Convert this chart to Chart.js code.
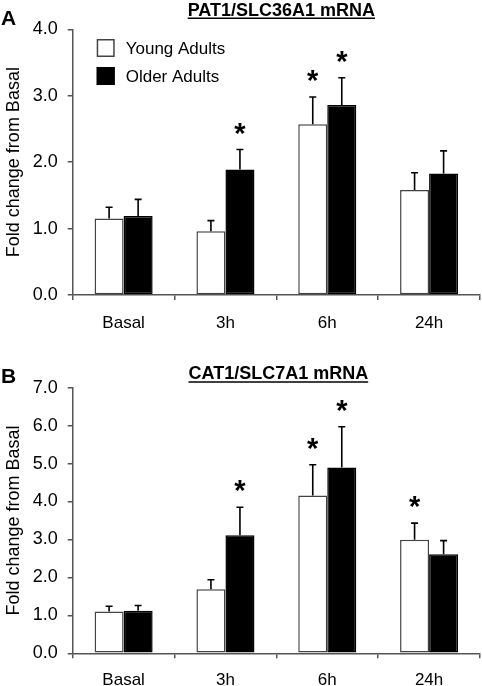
<!DOCTYPE html>
<html><head><meta charset="utf-8">
<script src="https://cdn.jsdelivr.net/npm/chart.js@4"></script>
<style>
html,body{margin:0;padding:0;background:#fff;}
#wrap{position:relative;width:482px;height:686px;overflow:hidden;}
canvas{position:absolute;left:0;}
</style></head><body>
<div id="wrap">
<canvas id="cA" width="482" height="343" style="top:0px"></canvas>
<canvas id="cB" width="482" height="343" style="top:343px"></canvas>
</div>
<script>
// ---------- data ----------
const categories = ['Basal', '3h', '6h', '24h'];
const seriesNames = ['Young Adults', 'Older Adults'];
const yAxisTitle = 'Fold change from Basal';

// Panel A
const titleA = 'PAT1/SLC36A1 mRNA';
const youngA = [1.15, 0.96, 2.57, 1.58];
const youngErrA = [0.17, 0.16, 0.41, 0.26];
const olderA = [1.19, 1.89, 2.86, 1.83];
const olderErrA = [0.25, 0.30, 0.41, 0.34];
const youngSigA = [false, false, true, false];
const olderSigA = [false, true, true, false];
const yMaxA = 4;

// Panel B
const titleB = 'CAT1/SLC7A1 mRNA';
const youngB = [1.10, 1.69, 4.16, 2.99];
const youngErrB = [0.14, 0.25, 0.81, 0.44];
const olderB = [1.12, 3.11, 4.90, 2.61];
const olderErrB = [0.14, 0.74, 1.07, 0.36];
const youngSigB = [false, false, true, true];
const olderSigB = [false, true, true, false];
const yMaxB = 7;

// ---------- styling ----------
const FONT = '"Liberation Sans", Arial, Helvetica, sans-serif';
const AXIS = '#555555';

const errPlugin = {
  id: 'errbars',
  afterDatasetsDraw(chart) {
    const ctx = chart.ctx, y = chart.scales.y;
    chart.data.datasets.forEach((ds, di) => {
      const meta = chart.getDatasetMeta(di);
      meta.data.forEach((bar, i) => {
        const top = y.getPixelForValue(ds.data[i] + ds.err[i]);
        ctx.save();
        ctx.strokeStyle = '#000';
        ctx.lineWidth = 1.6;
        ctx.beginPath();
        ctx.moveTo(bar.x, bar.y);
        ctx.lineTo(bar.x, top);
        ctx.moveTo(bar.x - 3.5, top);
        ctx.lineTo(bar.x + 3.5, top);
        ctx.stroke();
        if (ds.sig[i]) {
          ctx.fillStyle = '#000';
          ctx.font = 'bold 29px ' + FONT;
          ctx.textAlign = 'center';
          ctx.textBaseline = 'alphabetic';
          ctx.fillText('*', bar.x, top - 7);
        }
        ctx.restore();
      });
    });
  }
};

const panelPlugin = {
  id: 'panel',
  afterDraw(chart, args, opts) {
    const ctx = chart.ctx, ca = chart.chartArea;
    ctx.save();
    // panel letter
    ctx.fillStyle = '#000';
    ctx.font = 'bold 21px ' + FONT;
    ctx.textAlign = 'left';
    ctx.textBaseline = 'alphabetic';
    ctx.fillText(opts.letter, 1, opts.letterY);
    // underlined title
    ctx.font = 'bold 18px ' + FONT;
    ctx.textAlign = 'center';
    const cx = (ca.left + ca.right) / 2 + opts.titleDx;
    ctx.fillText(opts.title, cx, opts.titleY);
    const w = ctx.measureText(opts.title).width;
    ctx.strokeStyle = '#000';
    ctx.lineWidth = 1.5;
    ctx.beginPath();
    ctx.moveTo(cx - w / 2, opts.titleY + 2.8);
    ctx.lineTo(cx + w / 2, opts.titleY + 2.8);
    ctx.stroke();
    // legend
    if (opts.legend) {
      ctx.font = '17px ' + FONT;
      ctx.textAlign = 'left';
      ctx.textBaseline = 'middle';
      chart.data.datasets.forEach((ds, i) => {
        const bx = ca.left + 24, by = ca.top + 9.7 + i * 28;
        ctx.fillStyle = ds.backgroundColor;
        ctx.fillRect(bx, by, 18, 18);
        ctx.strokeStyle = ds.borderColor;
        ctx.lineWidth = 1.5;
        ctx.strokeRect(bx + 0.75, by + 0.75, 16.5, 16.5);
        ctx.fillStyle = '#000';
        ctx.fillText(ds.label, bx + 29, by + 10);
      });
    }
    ctx.restore();
  }
};

function makeChart(id, young, youngErr, youngSig, older, olderErr, olderSig, yMax, title, letter, cfg) {
  return new Chart(document.getElementById(id), {
    type: 'bar',
    data: {
      labels: categories,
      datasets: [
        { label: seriesNames[0], data: young, err: youngErr, sig: youngSig,
          backgroundColor: '#ffffff', borderColor: '#444444', borderWidth: 1.5, borderSkipped: false },
        { label: seriesNames[1], data: older, err: olderErr, sig: olderSig,
          backgroundColor: '#000000', borderColor: '#000000', borderWidth: 1.5, borderSkipped: false }
      ]
    },
    options: {
      responsive: false,
      animation: false,
      devicePixelRatio: 1,
      categoryPercentage: 0.57,
      barPercentage: 1.0,
      layout: { padding: { left: 0, right: 2, top: cfg.top, bottom: 0 } },
      plugins: {
        legend: { display: false },
        tooltip: { enabled: false },
        panel: { letter: letter, letterY: cfg.letterY, title: title, titleY: cfg.titleY, titleDx: cfg.titleDx, legend: cfg.legend }
      },
      scales: {
        x: {
          grid: { display: true, offset: true, drawOnChartArea: false, drawTicks: true, tickLength: 5, color: AXIS, lineWidth: 1.5 },
          border: { display: true, color: AXIS, width: 1.5 },
          ticks: { color: '#000', font: { family: FONT, size: 17 }, padding: cfg.xPad },
          afterFit(s) { s.height = cfg.xH; }
        },
        y: {
          min: 0, max: yMax,
          grid: { display: true, drawOnChartArea: false, drawTicks: true, tickLength: 5, color: AXIS, lineWidth: 1.5 },
          border: { display: true, color: AXIS, width: 1.5 },
          ticks: { stepSize: 1, color: '#000', font: { family: FONT, size: 18 }, padding: 10,
                   callback: v => Number(v).toFixed(1) },
          title: { display: true, text: yAxisTitle, color: '#000', font: { family: FONT, size: 18 }, padding: { top: 3, bottom: 0 } },
          afterFit(s) { s.width = 72.7; }
        }
      }
    },
    plugins: [errPlugin, panelPlugin]
  });
}

makeChart('cA', youngA, youngErrA, youngSigA, olderA, olderErrA, olderSigA, yMaxA, titleA, 'A',
  { top: 29.3, xH: 48, xPad: 13, letterY: 25, titleY: 15.5, titleDx: 5, legend: true });
makeChart('cB', youngB, youngErrB, youngSigB, olderB, olderErrB, olderSigB, yMaxB, titleB, 'B',
  { top: 44.7, xH: 32.7, xPad: 12, letterY: 39.7, titleY: 36.3, titleDx: 2, legend: false });
</script>
</body></html>
